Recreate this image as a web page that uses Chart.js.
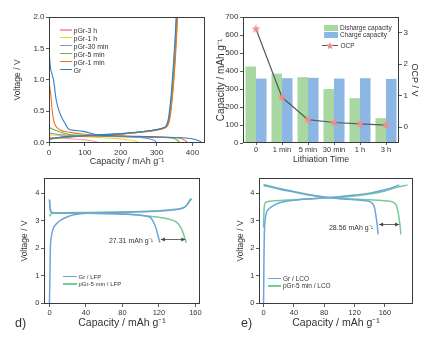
<!DOCTYPE html>
<html>
<head>
<meta charset="utf-8">
<script src="https://cdn.jsdelivr.net/npm/chart.js@4.4.1/dist/chart.umd.min.js"></script>
<style>
  body { margin: 0; background: #fff; width: 437px; height: 341px; position: relative; overflow: hidden;
         font-family: "Liberation Sans", Arial, sans-serif; color: #333; }
  canvas { position: absolute; }
  .t { position: absolute; white-space: nowrap; line-height: 1; z-index: 5; transform: translateY(-50%); }
  .ln { position: absolute; z-index: 5; }
</style>
</head>
<body>
<canvas id="ca" width="218" height="170" style="left:0;top:0"></canvas>
<canvas id="cb" width="225" height="170" style="left:212px;top:0"></canvas>
<canvas id="cd" width="218" height="171" style="left:0;top:170px"></canvas>
<canvas id="ce" width="219" height="171" style="left:218px;top:170px"></canvas>
<script>
const F = '"Liberation Sans", Arial, sans-serif';
const INK = '#333';
const G1 = ' / mAh g\u207B\u00B9';

// ---- (a) half-cell voltage profiles: [capacity, voltage]
const namesA  = ['pGr-3 h', 'pGr-1 h', 'pGr-30 min', 'pGr-5 min', 'pGr-1 min', 'Gr'];
const colorsA = ['#f5a3a8', '#f3d11b', '#8a8dc6', '#63b644', '#f2711f', '#2f7fc8'];
const dis3h  = [[0,0.08],[30,0.07],[70,0.055],[100,0.04],[120,0.025],[132,0.01],[137,0]];
const dis1h  = [[0,0.12],[30,0.11],[100,0.09],[160,0.07],[210,0.05],[238,0.025],[248,0]];
const dis30m = [[0,0.15],[30,0.125],[70,0.11],[130,0.1],[200,0.09],[260,0.075],[285,0.05],[295,0.025],[300,0]];
const dis5m  = [[0,0.24],[20,0.19],[40,0.15],[62,0.12],[100,0.11],[200,0.095],[300,0.08],[345,0.065],[358,0.035],[365,0]];
const dis1m  = [[0,0.97],[3,0.85],[6,0.7],[9,0.5],[13,0.35],[18,0.27],[30,0.2],[60,0.16],[100,0.13],[150,0.11],[200,0.1],[260,0.09],[320,0.08],[360,0.07],[375,0.045],[382,0.02],[386,0]];
const disGr  = [[0,2.05],[1,1.5],[3,1.25],[8,1.1],[13,0.98],[20,0.68],[30,0.47],[44,0.31],[56,0.21],[75,0.19],[95,0.175],[136,0.12],[180,0.105],[250,0.095],[320,0.085],[380,0.07],[405,0.05],[418,0.025],[425,0]];
const chg3h  = [[0,0.06],[40,0.085],[100,0.105],[150,0.12],[210,0.14],[260,0.17],[300,0.2],[320,0.23],[328,0.27],[334,0.38],[339,0.6],[344,0.9],[349,1.3],[353,1.7],[356,2.05]];
const chg1h  = [[0,0.06],[40,0.085],[100,0.105],[150,0.12],[210,0.14],[260,0.17],[300,0.2],[320,0.23],[329,0.27],[335,0.38],[340,0.6],[345,0.9],[350,1.3],[354,1.7],[357,2.05]];
const chg30m = [[0,0.06],[40,0.085],[100,0.105],[150,0.12],[210,0.14],[260,0.17],[300,0.2],[320,0.23],[329,0.27],[335,0.38],[340,0.6],[345,0.9],[350,1.3],[354,1.7],[357,2.05]];
const chg5m  = [[0,0.05],[40,0.085],[100,0.105],[150,0.12],[210,0.14],[260,0.17],[300,0.2],[321,0.23],[330,0.27],[336,0.38],[341,0.6],[346,0.9],[351,1.3],[355,1.7],[358,2.05]];
const chg1m  = [[0,0.05],[40,0.08],[100,0.1],[150,0.115],[210,0.135],[260,0.165],[300,0.195],[322,0.23],[331,0.27],[337,0.38],[342,0.6],[347,0.9],[352,1.3],[356,1.7],[359,2.05]];
const chgGr  = [[0,0.05],[30,0.08],[80,0.1],[136,0.12],[200,0.14],[250,0.165],[285,0.19],[317,0.23],[326,0.26],[332,0.35],[337,0.55],[342,0.85],[347,1.25],[352,1.7],[355,2.05]];
const disA = [dis3h, dis1h, dis30m, dis5m, dis1m, disGr];
const chgA = [chg3h, chg1h, chg30m, chg5m, chg1m, chgGr];
const capTicksA  = [0, 100, 200, 300, 400];
const voltTicksA = [0, 0.5, 1, 1.5, 2];

// ---- (b) capacities and open-circuit potential vs lithiation time
const times        = ['0', '1 min', '5 min', '30 min', '1 h', '3 h'];
const dischargeCap = [425, 385, 366, 300, 249, 138];
const chargeCap    = [358, 360, 362, 358, 360, 356];
const ocp          = [3.12, 0.95, 0.24, 0.15, 0.11, 0.07];
const capTicksB = [0, 100, 200, 300, 400, 500, 600, 700];
const ocpTicks  = [0, 1, 2, 3];

// ---- (d) full cell vs LFP
const lfpGrChg  = [[0,0],[0.5,1.0],[1,2.0],[2,2.4],[4,2.7],[8,2.9],[14,3.05],[22,3.17],[32,3.24],[45,3.27],[80,3.3],[110,3.33],[130,3.37],[142,3.42],[148,3.48],[151,3.58],[153,3.7],[155,3.8]];
const lfpGrDis  = [[0,3.75],[1,3.4],[3,3.3],[20,3.28],[60,3.26],[90,3.22],[105,3.17],[111,3.1],[114,2.95],[117,2.7],[119,2.45],[121,2.2]];
const lfpPGrChg = [[0,3.15],[2,3.25],[6,3.28],[40,3.3],[80,3.32],[120,3.36],[138,3.41],[146,3.46],[150,3.55],[153,3.68],[156,3.8]];
const lfpPGrDis = [[0,3.78],[0.5,3.5],[1.5,3.3],[10,3.28],[40,3.27],[80,3.24],[100,3.2],[120,3.12],[130,3.06],[138,2.97],[143,2.8],[146,2.6],[148,2.4],[150,2.2]];
const lfpGap = [121, 150, 2.34];
const capTicksD  = [0, 40, 80, 120, 160];
const voltTicksD = [0, 1, 2, 3, 4];

// ---- (e) full cell vs LCO
const lcoGrChg  = [[0,0],[0.5,1.5],[1,2.5],[2,3.0],[4,3.3],[8,3.45],[15,3.58],[25,3.68],[40,3.74],[60,3.79],[80,3.83],[100,3.87],[120,3.93],[140,4.0],[160,4.12],[172,4.22],[179,4.3]];
const lcoGrDis  = [[0,4.28],[20,4.15],[40,4.04],[60,3.93],[80,3.85],[100,3.8],[120,3.76],[135,3.72],[142,3.66],[146,3.5],[148,3.2],[150,2.8],[151,2.5]];
const lcoPGrChg = [[0,2.75],[0.5,3.3],[1.5,3.6],[4,3.68],[15,3.72],[40,3.76],[80,3.82],[110,3.87],[140,3.97],[160,4.08],[175,4.2],[190,4.3]];
const lcoPGrDis = [[0,4.31],[20,4.18],[40,4.06],[60,3.95],[80,3.86],[110,3.8],[140,3.76],[160,3.72],[170,3.68],[175,3.55],[178,3.2],[180,2.8],[181,2.5]];
const lcoGap = [151, 180, 2.88];

const pts = a => a.map(([x, y]) => ({ x, y }));

function scale(min, max, ticks, title, fit, opt) {
  opt = opt || {};
  const tk = { color: INK, font: { family: F, size: opt.tickSize || 8 }, padding: 1.5, maxRotation: 0, autoSkip: false };
  if (opt.fmt) tk.callback = opt.fmt;
  const s = {
    type: 'linear', min, max,
    afterBuildTicks: sc => { sc.ticks = ticks.map(v => ({ value: v })); },
    afterFit: fit,
    grid: { drawOnChartArea: false, drawTicks: true, tickLength: 3, color: INK, lineWidth: 0.8 },
    border: { display: false },
    ticks: tk,
    title: Object.assign({ display: true, color: INK }, title)
  };
  if (opt.position) s.position = opt.position;
  return s;
}

const frame = {
  id: 'frame',
  afterDraw(chart) {
    const { ctx, chartArea: a } = chart;
    ctx.save();
    ctx.strokeStyle = '#3a3a3a';
    ctx.lineWidth = 1;
    ctx.strokeRect(Math.round(a.left) + 0.5, Math.round(a.top) + 0.5, Math.round(a.right - a.left) - 1, Math.round(a.bottom - a.top) - 1);
    ctx.restore();
  }
};

function gapArrow(gap) {
  return {
    id: 'gap',
    afterDatasetsDraw(chart) {
      const { ctx } = chart, xs = chart.scales.x, ys = chart.scales.y;
      const x0 = xs.getPixelForValue(gap[0]) + 1, x1 = xs.getPixelForValue(gap[1]) - 1, y = Math.round(ys.getPixelForValue(gap[2])) + 0.5;
      ctx.save();
      ctx.strokeStyle = '#444'; ctx.fillStyle = '#444'; ctx.lineWidth = 0.8;
      ctx.beginPath(); ctx.moveTo(x0, y); ctx.lineTo(x1, y); ctx.stroke();
      ctx.beginPath(); ctx.moveTo(x0, y); ctx.lineTo(x0 + 4, y - 2); ctx.lineTo(x0 + 4, y + 2); ctx.closePath(); ctx.fill();
      ctx.beginPath(); ctx.moveTo(x1, y); ctx.lineTo(x1 - 4, y - 2); ctx.lineTo(x1 - 4, y + 2); ctx.closePath(); ctx.fill();
      ctx.restore();
    }
  };
}

function starImg(size, color) {
  const c = document.createElement('canvas');
  c.width = c.height = size;
  const g = c.getContext('2d');
  g.fillStyle = color;
  g.beginPath();
  for (let i = 0; i < 10; i++) {
    const r = i % 2 ? size * 0.22 : size / 2;
    const a = -Math.PI / 2 + i * Math.PI / 5;
    g.lineTo(size / 2 + r * Math.cos(a), size / 2 + r * Math.sin(a));
  }
  g.closePath(); g.fill();
  return c;
}

const base = {
  responsive: false, animation: false, events: [],
  plugins: { legend: { display: false }, tooltip: { enabled: false } }
};

// ---------- (a)
const setsA = [];
namesA.forEach((n, i) => {
  [disA[i], chgA[i]].forEach(curve => setsA.push({
    data: pts(curve), borderColor: colorsA[i], borderWidth: 1.1, pointRadius: 0,
    showLine: true, cubicInterpolationMode: 'monotone', order: namesA.length - i
  }));
});
new Chart(document.getElementById('ca'), {
  type: 'scatter',
  data: { datasets: setsA },
  options: Object.assign({}, base, {
    layout: { padding: { left: 0, top: 17, right: 13, bottom: 0 } },
    scales: {
      x: scale(0, 435, capTicksA, { text: 'Capacity' + G1, font: { family: F, size: 9 }, padding: { top: 0, bottom: 3 } },
               s => { s.height = 27; }),
      y: scale(-0.01, 2.0, voltTicksA, { text: 'Voltage / V', font: { family: F, size: 8.5 }, padding: { top: 13, bottom: 0 } },
               s => { s.width = 49; }, { fmt: v => v.toFixed(1) })
    }
  }),
  plugins: [frame]
});

// ---------- (b)
const star = starImg(9, '#f38b8e');
new Chart(document.getElementById('cb'), {
  type: 'bar',
  data: {
    labels: times,
    datasets: [
      { type: 'line', label: 'OCP', data: ocp, yAxisID: 'y1', borderColor: '#5a5a5a', borderWidth: 1.2,
        pointStyle: star, pointRadius: 4.5, order: 0 },
      { label: 'Disharge capacity', data: dischargeCap, backgroundColor: '#a9d7a1', categoryPercentage: 0.81, barPercentage: 1, order: 1 },
      { label: 'Charge capacity', data: chargeCap, backgroundColor: '#8cb6e3', categoryPercentage: 0.81, barPercentage: 1, order: 1 }
    ]
  },
  options: Object.assign({}, base, {
    layout: { padding: { left: 0, top: 17, right: 14, bottom: 0 } },
    scales: {
      x: {
        type: 'category', offset: true,
        afterFit: s => { s.height = 27; },
        grid: { drawOnChartArea: false, drawTicks: true, tickLength: 2, color: INK, lineWidth: 0.8, offset: false },
        border: { display: false },
        ticks: { color: INK, font: { family: F, size: 7.5 }, padding: 0, maxRotation: 0, autoSkip: false },
        title: { display: true, text: 'Lithiation Time', color: INK, font: { family: F, size: 8.7 }, padding: { top: 0, bottom: 5.5 } }
      },
      y: scale(0, 700, capTicksB, { text: 'Capacity' + G1, font: { family: F, size: 10 }, padding: { top: 3.5, bottom: 0 } },
               s => { s.width = 31; }),
      y1: scale(-0.5, 3.5, ocpTicks, { text: 'OCP / V', font: { family: F, size: 9 }, padding: { top: 2.9, bottom: 0 } },
               s => { s.width = 24; }, { position: 'right' })
    }
  }),
  plugins: [frame]
});

// ---------- (d) and (e)
const blueFC = '#6ea3dc', greenFC = '#72cc98';
function fullCell(id, w, L, R, xr, titlePad, curves, gap) {
  return new Chart(document.getElementById(id), {
    type: 'scatter',
    data: {
      datasets: curves.map((c, i) => ({
        data: pts(c), borderColor: i < 2 ? blueFC : greenFC, borderWidth: 1.5, pointRadius: 0,
        showLine: true, cubicInterpolationMode: 'monotone', order: i < 2 ? 0 : 1
      }))
    },
    options: Object.assign({}, base, {
      layout: { padding: { left: 0, top: 8, right: w - R, bottom: 0 } },
      scales: {
        x: scale(xr[0], xr[1], capTicksD, { text: 'Capacity' + G1, font: { family: F, size: 10.5 }, padding: { top: 0, bottom: 11.7 } },
                 s => { s.height = 37; }, { tickSize: 7.5 }),
        y: scale(-0.03, 4.55, voltTicksD, { text: 'Voltage / V', font: { family: F, size: 8.5 }, padding: { top: titlePad, bottom: 0 } },
                 s => { s.width = L; }, { tickSize: 7.5 })
      }
    }),
    plugins: [frame, gapArrow(gap)]
  });
}
fullCell('cd', 218, 44, 200, [-6, 165], 19.9, [lfpGrChg, lfpGrDis, lfpPGrChg, lfpPGrDis], lfpGap);
fullCell('ce', 219, 41, 195, [-6, 197], 17.6, [lcoGrChg, lcoGrDis, lcoPGrChg, lcoPGrDis], lcoGap);

// ---------- text overlays (legends, notes, panel letters)
function text(x, y, str, size, opts) {
  const d = document.createElement('div');
  d.className = 't';
  d.textContent = str;
  d.style.fontSize = size + 'px';
  if (opts && opts.right) d.style.right = (437 - x) + 'px'; else d.style.left = x + 'px';
  d.style.top = y + 'px';
  document.body.appendChild(d);
}
function line(x0, x1, y, color, w) {
  const d = document.createElement('div');
  d.className = 'ln';
  Object.assign(d.style, { left: x0 + 'px', top: (y - w / 2) + 'px', width: (x1 - x0) + 'px', height: w + 'px', background: color });
  document.body.appendChild(d);
}
function box(x, y, w, h, color) {
  const d = document.createElement('div');
  d.className = 'ln';
  Object.assign(d.style, { left: x + 'px', top: y + 'px', width: w + 'px', height: h + 'px', background: color });
  document.body.appendChild(d);
}

const rowsA = [30, 37.8, 45.8, 53.8, 61.8, 69.8];
namesA.forEach((n, i) => { line(60, 72, rowsA[i], colorsA[i], 1.2); text(73.5, rowsA[i], n, 7); });

box(324, 25, 14, 6, '#a9d7a1');
box(324, 32, 14, 6, '#8cb6e3');
text(340, 28, 'Disharge capacity', 6.5);
text(340, 35.3, 'Charge capacity', 6.5);
line(322, 338, 45.7, '#5a5a5a', 1.2);
const st = starImg(8, '#f38b8e');
st.style.cssText = 'position:absolute;left:326px;top:41.7px;z-index:6';
document.body.appendChild(st);
text(340.5, 45.7, 'OCP', 6.5);

line(63, 77, 276.7, blueFC, 1.5); text(78.5, 276.7, 'Gr / LFP', 6);
line(63, 77, 284, greenFC, 1.5); text(78.5, 284, 'pGr-5 min / LFP', 6);
line(268, 281, 278.7, blueFC, 1.5); text(283, 278.7, 'Gr / LCO', 6.5);
line(268, 281, 286, greenFC, 1.5); text(283, 286, 'pGr-5 min / LCO', 6.5);

text(153, 240, '27.31 mAh g\u207B\u00B9', 7, { right: true });
text(373, 226.5, '28.56 mAh g\u207B\u00B9', 7, { right: true });

text(15, 323, 'd)', 12.5);
text(241, 323, 'e)', 12.5);
</script>
</body>
</html>
